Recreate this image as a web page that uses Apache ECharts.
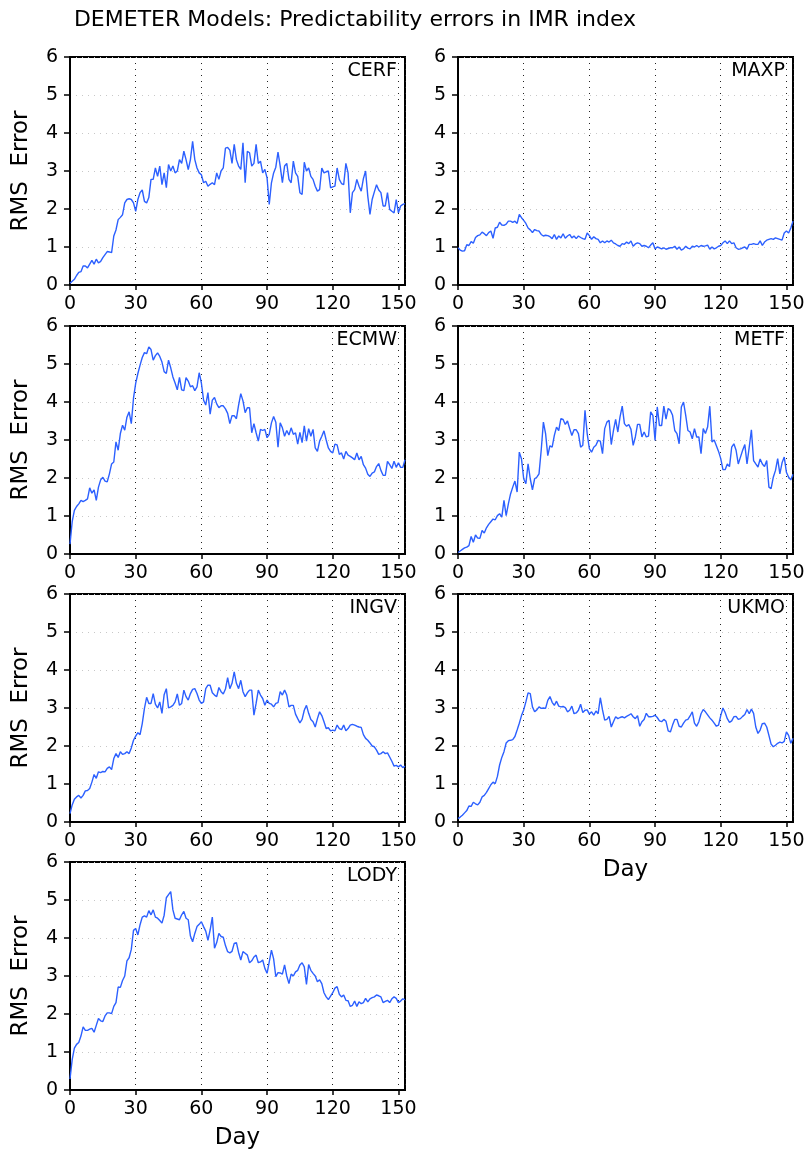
<!DOCTYPE html>
<html>
<head>
<meta charset="utf-8">
<script src="https://cdn.jsdelivr.net/npm/echarts@6/dist/echarts.min.js"></script>
<style>
html, body { margin: 0; padding: 0; background: #fff; }
#main { width: 811px; height: 1151px; }
</style>
</head>
<body>
<div id="main"></div>
<script>
// RMS error per forecast day (day 0 .. 153), one array per model
var cerf = [
    0.05, 0.1, 0.15, 0.25, 0.33, 0.35, 0.5, 0.5, 0.45, 0.55,
    0.65, 0.55, 0.68, 0.58, 0.62, 0.72, 0.8, 0.88, 0.87, 0.85,
    1.29, 1.45, 1.72, 1.78, 1.85, 2.16, 2.25, 2.27, 2.25, 2.16,
    1.94, 2.25, 2.43, 2.5, 2.2, 2.16, 2.3, 2.78, 2.78, 3.08,
    2.86, 3.13, 2.64, 2.95, 2.56, 3.17, 3.0, 3.13, 2.95, 3.0,
    3.3, 3.2, 3.52, 3.3, 3.04, 3.3, 3.78, 3.3, 3.08, 2.95,
    2.9, 2.69, 2.73, 2.6, 2.65, 2.69, 2.64, 2.95, 2.78, 3.0,
    3.08, 3.6, 3.62, 3.55, 3.2, 3.7, 3.3, 3.13, 3.04, 3.74,
    2.69, 3.52, 3.48, 3.13, 3.2, 3.7, 3.2, 3.26, 2.95, 3.04,
    2.82, 2.12, 2.69, 2.95, 3.1, 3.5, 3.13, 2.69, 3.13, 3.2,
    2.78, 2.69, 3.26, 2.95, 2.86, 2.43, 2.38, 3.23, 3.0, 3.08,
    2.86, 2.78, 2.6, 2.47, 2.51, 3.08, 2.95, 2.98, 3.0, 2.56,
    2.58, 2.6, 3.08, 2.78, 2.67, 2.64, 3.2, 2.95, 1.9, 2.43,
    2.51, 2.78, 2.6, 2.47, 2.8, 3.0, 2.34, 1.86, 2.25, 2.45,
    2.64, 2.5, 2.43, 2.08, 2.08, 2.43, 1.99, 1.94, 1.9, 2.25,
    1.9, 2.08, 2.12, 2.14
];
var maxp = [
    0.98, 0.92, 0.89, 0.9, 1.06, 1.04, 1.14, 1.1, 1.25, 1.3,
    1.32, 1.39, 1.35, 1.3, 1.38, 1.42, 1.23, 1.5, 1.52, 1.65,
    1.58, 1.57, 1.6, 1.68, 1.68, 1.65, 1.68, 1.62, 1.86, 1.77,
    1.7, 1.62, 1.5, 1.45, 1.38, 1.46, 1.43, 1.42, 1.33, 1.29,
    1.31, 1.3, 1.27, 1.22, 1.33, 1.2, 1.29, 1.24, 1.35, 1.23,
    1.29, 1.33, 1.24, 1.29, 1.22, 1.29, 1.25, 1.22, 1.2, 1.37,
    1.3, 1.2, 1.27, 1.22, 1.2, 1.11, 1.16, 1.11, 1.16, 1.13,
    1.18, 1.11, 1.08, 1.04, 1.02, 1.09, 1.07, 1.13, 1.09, 1.16,
    1.02, 1.08, 1.11, 1.09, 1.02, 1.04, 1.02, 0.98, 1.05, 1.11,
    0.95, 1.0, 0.98, 0.95, 0.98, 0.94, 0.96, 0.98, 0.98, 1.02,
    0.94, 1.0, 0.92, 0.95, 1.02, 0.97, 0.95, 1.02, 1.0, 1.04,
    1.0, 1.04, 1.02, 1.03, 1.05, 0.94, 1.0, 0.95, 0.98, 1.02,
    1.04, 1.11, 1.16, 1.09, 1.16, 1.09, 1.11, 0.98, 0.94, 0.95,
    0.98, 1.0, 0.94, 1.07, 1.07, 1.09, 1.07, 1.07, 1.16, 1.04,
    1.13, 1.18, 1.2, 1.22, 1.2, 1.24, 1.22, 1.2, 1.18, 1.37,
    1.42, 1.37, 1.5, 1.68
];
var ecmw = [
    0.26, 0.85, 1.15, 1.25, 1.32, 1.41, 1.38, 1.41, 1.45, 1.74,
    1.6, 1.69, 1.41, 1.76, 1.95, 2.02, 1.92, 1.9, 2.11, 2.37,
    2.42, 2.95, 2.73, 3.17, 3.39, 3.26, 3.6, 3.74, 3.43, 4.1,
    4.49, 4.75, 4.97, 5.17, 5.3, 5.27, 5.45, 5.38, 5.1, 5.22,
    5.29, 5.2, 5.05, 4.8, 4.75, 5.1, 4.9, 4.66, 4.5, 4.32,
    4.65, 4.32, 4.3, 4.64, 4.55, 4.4, 4.43, 4.3, 4.4, 4.77,
    4.5, 4.05, 3.92, 4.25, 3.68, 4.05, 4.12, 3.95, 3.85, 3.9,
    3.9, 3.82, 3.7, 3.43, 3.64, 3.64, 3.56, 3.92, 4.22, 4.03,
    3.72, 3.85, 3.85, 3.19, 3.43, 3.19, 2.97, 3.28, 3.25, 3.28,
    3.06, 3.15, 3.45, 3.62, 3.47, 2.81, 3.45, 3.32, 3.1, 3.25,
    3.13, 3.32, 3.15, 3.19, 2.89, 3.2, 2.93, 3.37, 2.97, 3.3,
    3.1, 3.28, 2.79, 2.7, 2.97, 3.1, 3.24, 3.0, 2.79, 2.7,
    2.66, 2.89, 2.87, 2.62, 2.66, 2.5, 2.7, 2.6, 2.57, 2.53,
    2.48, 2.66, 2.48, 2.57, 2.35, 2.26, 2.1, 2.04, 2.13, 2.16,
    2.3, 2.38, 2.2, 2.07, 2.07, 2.44, 2.35, 2.25, 2.44, 2.28,
    2.4, 2.28, 2.28, 2.48
];
var metf = [
    0.04, 0.08, 0.12, 0.16, 0.18, 0.22, 0.46, 0.31, 0.5, 0.42,
    0.41, 0.62, 0.55, 0.69, 0.78, 0.85, 0.92, 0.9, 1.01, 1.06,
    0.97, 1.41, 1.01, 1.32, 1.58, 1.76, 1.92, 1.63, 2.68, 2.5,
    1.98, 1.85, 2.37, 1.98, 1.69, 1.98, 2.02, 2.11, 2.73, 3.47,
    3.17, 2.59, 2.85, 2.81, 3.12, 3.34, 3.25, 3.56, 3.54, 3.41,
    3.5, 3.3, 3.12, 3.27, 3.27, 3.17, 2.81, 2.86, 3.78, 3.17,
    2.77, 2.68, 2.81, 2.86, 2.99, 2.97, 2.64, 3.3, 3.47, 3.52,
    2.88, 3.25, 3.54, 3.21, 3.61, 3.89, 3.43, 3.36, 3.41, 3.28,
    2.86, 3.08, 3.41, 3.41, 3.08, 3.21, 3.08, 3.1, 3.74, 3.65,
    2.99, 3.87, 3.38, 3.38, 3.89, 3.55, 3.83, 3.78, 3.65, 3.25,
    3.17, 2.9, 3.87, 4.0, 3.65, 3.25, 3.21, 3.03, 3.3, 3.08,
    3.08, 2.64, 3.3, 3.17, 3.34, 3.89, 2.95, 3.0, 2.85, 2.7,
    2.51, 2.22, 2.22, 2.37, 2.3, 2.81, 2.9, 2.73, 2.37, 2.55,
    2.73, 2.88, 2.37, 2.81, 3.27, 2.46, 2.37, 2.29, 2.5, 2.37,
    2.3, 2.46, 1.76, 1.72, 2.02, 2.2, 2.51, 2.11, 2.4, 2.55,
    2.15, 2.02, 1.95, 2.1
];
var ingv = [
    0.22, 0.45, 0.6, 0.66, 0.7, 0.63, 0.7, 0.82, 0.83, 0.88,
    1.05, 1.25, 1.15, 1.32, 1.3, 1.33, 1.32, 1.41, 1.45, 1.38,
    1.67, 1.8, 1.7, 1.85, 1.78, 1.8, 1.85, 1.8, 1.95, 2.15,
    2.26, 2.35, 2.3, 2.59, 2.99, 3.28, 3.12, 3.12, 3.38, 3.1,
    3.0, 3.16, 2.86, 3.35, 3.51, 3.0, 3.03, 3.07, 3.16, 3.37,
    3.07, 3.12, 3.47, 3.3, 3.21, 3.38, 3.49, 3.51, 3.38, 3.21,
    3.12, 3.16, 3.51, 3.6, 3.6, 3.4, 3.34, 3.3, 3.54, 3.43,
    3.37, 3.5, 3.8, 3.51, 3.65, 3.95, 3.65, 3.51, 3.73, 3.43,
    3.3, 3.4, 3.47, 3.47, 2.81, 3.12, 3.47, 3.34, 3.25, 3.07,
    3.21, 3.12, 3.1, 3.03, 3.12, 3.14, 3.43, 3.34, 3.47, 3.34,
    3.03, 3.07, 3.07, 2.84, 2.72, 2.61, 2.7, 2.94, 3.07, 2.86,
    2.7, 2.64, 2.5, 2.72, 2.9, 2.8, 2.64, 2.46, 2.48, 2.4,
    2.42, 2.4, 2.55, 2.46, 2.43, 2.55, 2.4, 2.46, 2.55, 2.57,
    2.55, 2.52, 2.5, 2.49, 2.3, 2.2, 2.15, 2.08, 2.0, 1.98,
    1.89, 1.78, 1.8, 1.85, 1.8, 1.82, 1.71, 1.6, 1.47, 1.49,
    1.45, 1.5, 1.43, 1.47
];
var ukmo = [
    0.09, 0.13, 0.18, 0.24, 0.3, 0.42, 0.41, 0.52, 0.48, 0.45,
    0.52, 0.66, 0.7, 0.78, 0.88, 0.98, 1.05, 1.01, 1.2, 1.5,
    1.7, 1.85, 2.08, 2.14, 2.15, 2.17, 2.25, 2.42, 2.6, 2.8,
    2.95, 3.16, 3.4, 3.38, 3.03, 2.9, 2.95, 3.03, 2.99, 3.0,
    2.99, 3.2, 3.3, 3.15, 3.07, 3.18, 3.05, 3.03, 3.04, 3.01,
    2.9, 2.94, 3.05, 2.85, 2.87, 2.94, 3.1, 2.88, 2.94, 2.95,
    2.84, 2.9, 2.81, 2.92, 2.85, 3.27, 2.95, 2.68, 2.7, 2.78,
    2.5, 2.64, 2.77, 2.72, 2.75, 2.77, 2.74, 2.78, 2.81, 2.85,
    2.77, 2.72, 2.8, 2.52, 2.64, 2.7, 2.86, 2.77, 2.77, 2.78,
    2.81, 2.75, 2.66, 2.64, 2.7, 2.65, 2.4, 2.37, 2.55, 2.7,
    2.7, 2.52, 2.5, 2.6, 2.68, 2.7, 2.79, 2.9, 2.6, 2.52,
    2.64, 2.85, 2.96, 2.9, 2.82, 2.74, 2.68, 2.6, 2.52, 2.55,
    2.8, 3.0, 2.88, 2.72, 2.62, 2.66, 2.77, 2.78, 2.7, 2.72,
    2.78, 2.83, 2.96, 2.85, 2.97, 2.86, 2.5, 2.33, 2.42, 2.59,
    2.6, 2.5, 2.28, 2.05, 1.98, 2.02, 2.07, 2.1, 2.08, 2.12,
    2.37, 2.28, 2.07, 2.2
];
var lody = [
    0.29, 0.8, 1.1, 1.2, 1.25, 1.42, 1.66, 1.57, 1.57, 1.6,
    1.62, 1.52, 1.7, 1.88, 1.82, 1.8, 1.95, 2.03, 2.03, 2.01,
    2.2, 2.3, 2.71, 2.7, 2.88, 3.0, 3.4, 3.48, 3.7, 4.2,
    4.25, 4.08, 4.35, 4.55, 4.58, 4.55, 4.72, 4.61, 4.74, 4.55,
    4.52, 4.46, 4.39, 4.6, 5.06, 5.14, 5.22, 4.74, 4.52, 4.5,
    4.48, 4.61, 4.7, 4.52, 4.48, 4.05, 3.9, 4.12, 4.3, 4.36,
    4.43, 4.3, 4.18, 3.94, 4.21, 4.55, 3.73, 3.88, 4.12, 4.04,
    4.02, 3.8, 3.64, 3.61, 3.65, 3.86, 3.88, 3.62, 3.42, 3.64,
    3.6, 3.55, 3.35, 3.4, 3.5, 3.55, 3.35, 3.37, 3.42, 3.2,
    3.07, 3.37, 3.68, 3.45, 2.98, 3.09, 3.08, 3.05, 3.29, 3.0,
    2.8, 3.05, 3.0, 3.11, 3.15, 3.29, 3.35, 3.24, 2.78, 3.3,
    3.15, 3.07, 3.0, 2.85, 2.9, 2.8, 2.56, 2.45, 2.38, 2.47,
    2.56, 2.68, 2.72, 2.52, 2.45, 2.5, 2.36, 2.35, 2.2, 2.23,
    2.34, 2.2, 2.32, 2.27, 2.3, 2.41, 2.32, 2.4, 2.43, 2.45,
    2.5, 2.48, 2.45, 2.3, 2.33, 2.36, 2.3, 2.4, 2.45, 2.41,
    2.3, 2.34, 2.4, 2.38
];

var models = ['CERF', 'MAXP', 'ECMW', 'METF', 'INGV', 'UKMO', 'LODY'];
var modelValues = [cerf, maxp, ecmw, metf, ingv, ukmo, lody];
var dayMax = 153;

(function () {
    var FONT = 'DejaVu Sans';
    var LINE_COLOR = '#2c60ff';

    // plot box positions (px) for the 2 columns x 4 rows
    var colLeft = [70, 458];
    var rowTop = [57, 326, 594, 862];
    var boxW = 335;
    var boxH = 228;

    var grids = [], xAxes = [], yAxes = [], series = [], titles = [];

    titles.push({
        text: 'DEMETER Models: Predictability errors in IMR index',
        left: 355,
        top: 9,
        textAlign: 'center',
        padding: 0,
        textStyle: { fontFamily: FONT, fontSize: 22, fontWeight: 'normal', color: '#000' }
    });

    for (var i = 0; i < models.length; i++) {
        var col = i % 2;
        var row = Math.floor(i / 2);
        var boxLeft = colLeft[col];
        var boxTop = rowTop[row];
        // "Day" only under the last panel of each column
        var showDay = (i === 5 || i === 6);

        grids.push({
            left: boxLeft,
            top: boxTop,
            width: boxW,
            height: boxH,
            show: true,
            borderColor: '#000',
            borderWidth: 2
        });

        xAxes.push({
            gridIndex: i,
            type: 'value',
            min: 0,
            max: dayMax,
            interval: 30,
            name: showDay ? 'Day' : '',
            nameLocation: 'middle',
            nameGap: 37,
            nameTextStyle: { fontFamily: FONT, fontSize: 23, color: '#000' },
            axisLine: { show: true, lineStyle: { color: '#000', width: 2 } },
            axisTick: { show: true, inside: false, length: 5, lineStyle: { color: '#000', width: 1.5 } },
            axisLabel: {
                show: true,
                margin: 10,
                showMaxLabel: false,
                fontFamily: FONT,
                fontSize: 19,
                color: '#000'
            },
            splitLine: { show: true, lineStyle: { color: '#222', width: 1, type: [1, 5] } }
        });

        yAxes.push({
            gridIndex: i,
            type: 'value',
            min: 0,
            max: 6,
            interval: 1,
            name: col === 0 ? 'RMS  Error' : '',
            nameLocation: 'middle',
            nameGap: 37,
            nameTextStyle: { fontFamily: FONT, fontSize: 23, color: '#000' },
            axisLine: { show: true, lineStyle: { color: '#000', width: 2 } },
            axisTick: { show: true, inside: false, length: 6, lineStyle: { color: '#000', width: 1.5 } },
            axisLabel: { margin: 12, fontFamily: FONT, fontSize: 19, color: '#000' },
            splitLine: { show: true, lineStyle: { color: '#c8c8c8', width: 1, type: [1, 5] } }
        });

        titles.push({
            text: models[i],
            right: 811 - (boxLeft + boxW - 8),
            top: boxTop + 5,
            padding: 0,
            textStyle: { fontFamily: FONT, fontSize: 19, fontWeight: 'normal', color: '#000' }
        });

        var pts = [];
        var vals = modelValues[i];
        for (var d = 0; d < vals.length; d++) {
            pts.push([d, vals[d]]);
        }

        series.push({
            type: 'line',
            xAxisIndex: i,
            yAxisIndex: i,
            data: pts,
            symbol: 'none',
            lineStyle: { color: LINE_COLOR, width: 1.4 },
            z: 3
        });
    }

    var chart = echarts.init(document.getElementById('main'));
    chart.setOption({
        animation: false,
        backgroundColor: '#fff',
        title: titles,
        grid: grids,
        xAxis: xAxes,
        yAxis: yAxes,
        series: series
    });
})();
</script>
</body>
</html>
